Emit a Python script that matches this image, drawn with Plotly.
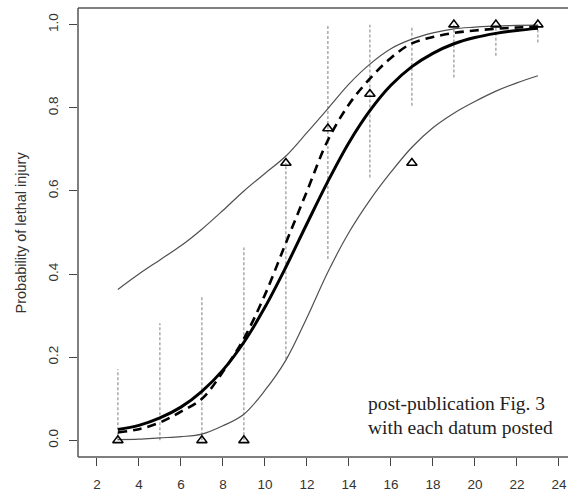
import plotly.graph_objects as go

# ---- data ----
curve_x = list(range(3, 24))
fit_solid = [0.026, 0.036, 0.054, 0.080, 0.118, 0.169, 0.236, 0.320, 0.417, 0.521, 0.623,
             0.716, 0.793, 0.854, 0.899, 0.931, 0.954, 0.969, 0.979, 0.986, 0.991]
fit_dashed = [0.019, 0.027, 0.043, 0.069, 0.100, 0.165, 0.245, 0.350, 0.475, 0.599, 0.722,
              0.808, 0.870, 0.920, 0.955, 0.970, 0.980, 0.986, 0.990, 0.993, 0.995]
band_upper = [0.363, 0.400, 0.434, 0.468, 0.508, 0.553, 0.600, 0.642, 0.684, 0.740, 0.798,
              0.857, 0.905, 0.942, 0.965, 0.980, 0.990, 0.994, 0.997, 0.998, 0.999]
band_lower = [0.002, 0.003, 0.006, 0.009, 0.015, 0.035, 0.063, 0.120, 0.193, 0.295, 0.405,
              0.500, 0.578, 0.645, 0.705, 0.752, 0.787, 0.815, 0.840, 0.860, 0.877]

datum_x = [3, 7, 9, 11, 13, 15, 17, 19, 21, 23]
datum_y = [0.0, 0.0, 0.0, 0.667, 0.75, 0.833, 0.667, 1.0, 1.0, 1.0]

ci_x = [3, 5, 7, 9, 11, 13, 15, 17, 19, 21, 23]
ci_low = [0.0, 0.0, 0.0, 0.0, 0.195, 0.436, 0.632, 0.805, 0.873, 0.925, 0.957]
ci_high = [0.171, 0.282, 0.348, 0.464, 0.667, 1.0, 1.0, 0.997, 1.0, 1.0, 1.0]

x_ticks = list(range(2, 25, 2))
y_ticks = [0.0, 0.2, 0.4, 0.6, 0.8, 1.0]
y_ticktext = ["0.0", "0.2", "0.4", "0.6", "0.8", "1.0"]

y_title = "Probability of lethal injury"
note_lines = ["post-publication Fig. 3", "with each datum posted"]

# ---- figure ----
fig = go.Figure()

# vertical dotted intervals
vx, vy = [], []
for x, lo, hi in zip(ci_x, ci_low, ci_high):
    vx += [x, x, None]
    vy += [lo, hi, None]
fig.add_trace(go.Scatter(x=vx, y=vy, mode="lines",
                         line=dict(color="#8a8a8a", width=1.1, dash="3px,2px"),
                         hoverinfo="skip", showlegend=False))

fig.add_trace(go.Scatter(x=curve_x, y=band_upper, mode="lines", line_shape="spline",
                         line=dict(color="#505050", width=1.2), showlegend=False))
fig.add_trace(go.Scatter(x=curve_x, y=band_lower, mode="lines", line_shape="spline",
                         line=dict(color="#505050", width=1.2), showlegend=False))
fig.add_trace(go.Scatter(x=curve_x, y=fit_solid, mode="lines", line_shape="spline",
                         line=dict(color="#000000", width=3), showlegend=False))
fig.add_trace(go.Scatter(x=curve_x, y=fit_dashed, mode="lines", line_shape="spline",
                         line=dict(color="#000000", width=2.6, dash="9px,6px"), showlegend=False))

fig.add_trace(go.Scatter(x=datum_x, y=datum_y, mode="markers",
                         marker=dict(symbol="triangle-up-open", size=9, color="#000000",
                                     line=dict(width=1.6, color="#000000")),
                         showlegend=False))

L, T, B = 78, 8, 36
W, H = 568, 493
pw = W - L

axis_font = dict(family="Liberation Sans, Arial, sans-serif", size=13.5, color="#333333")

fig.update_layout(
    width=W, height=H,
    margin=dict(l=L, r=0, t=T, b=B, pad=0),
    paper_bgcolor="white", plot_bgcolor="white",
    xaxis=dict(range=[1.1, 1.1 + pw / 21.0], tickvals=x_ticks, ticks="outside", ticklen=8,
               tickcolor="#444444", tickwidth=1, showgrid=False, zeroline=False,
               showline=False, tickfont=axis_font, ticklabelstandoff=7, automargin=False),
    yaxis=dict(range=[-0.04, 1.04], tickvals=y_ticks, ticktext=y_ticktext, ticks="outside",
               ticklen=8, tickcolor="#444444", tickwidth=1, showgrid=False, zeroline=False,
               showline=False, tickangle=-90, tickfont=axis_font, ticklabelstandoff=6,
               automargin=False),
    showlegend=False,
)

frame = dict(type="line", xref="paper", yref="paper", line=dict(color="#555555", width=1.5))
fig.add_shape(**frame, x0=0, x1=0, y0=0, y1=1)
fig.add_shape(**frame, x0=0, x1=1, y0=1, y1=1)
fig.add_shape(**frame, x0=0, x1=1, y0=0, y1=0)

fig.add_annotation(text=y_title, xref="paper", yref="paper", x=(20 - L) / pw, y=0.5,
                   textangle=-90, showarrow=False, xanchor="center", yanchor="middle",
                   font=dict(family="Liberation Sans, Arial, sans-serif", size=14.5, color="#333333"))

note_font = dict(family="Liberation Serif, Times New Roman, serif", size=19.5, color="#222222")
fig.add_annotation(text=note_lines[0], xref="paper", yref="paper", x=(366 - L) / pw,
                   y=(457 - 403) / 449, xanchor="left", yanchor="middle", showarrow=False,
                   font=note_font)
fig.add_annotation(text=note_lines[1], xref="paper", yref="paper", x=(366 - L) / pw,
                   y=(457 - 427) / 449, xanchor="left", yanchor="middle", showarrow=False,
                   font=note_font)

fig.write_html("out.html", config={"displayModeBar": False},
               post_script="document.body.style.margin='0';document.body.style.overflow='hidden';")
